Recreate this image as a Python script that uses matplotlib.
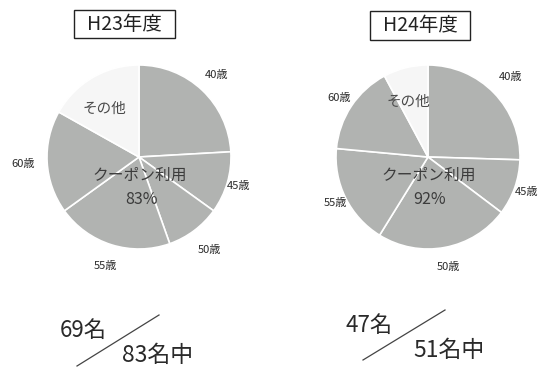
import numpy as np
import matplotlib.pyplot as plt

plt.rcParams['font.family'] = ['Noto Sans CJK JP', 'DejaVu Sans']

# data: people per age group (coupon users) + others
age_labels = ['40歳', '45歳', '50歳', '55歳', '60歳']
other_label = 'その他'
years = ['H23年度', 'H24年度']
users_h23 = [20, 9, 8, 17, 15]
others_h23 = 14
users_h24 = [13, 5, 12, 9, 8]
others_h24 = 4
rate_h23 = '83%'
rate_h24 = '92%'
used_h23, total_h23 = 69, 83
used_h24, total_h24 = 47, 51

GRAY = '#b1b3b1'
LIGHT = '#f6f6f6'
TXT = '#2a2a2a'
W, H = 547, 369


def ypix(y):
    return H - y


def draw_pie(ax, cx, cy, users, others, title, rate, label_dist, title_box):
    r = 92
    vals = list(users) + [others]
    colors = [GRAY] * len(users) + [LIGHT]
    wedges, _ = ax.pie(vals, colors=colors, startangle=90, counterclock=False,
                       center=(cx, ypix(cy)), radius=r, frame=True,
                       wedgeprops=dict(edgecolor='white', linewidth=1.2))
    for w, lab, d in zip(wedges[:-1], age_labels, label_dist):
        ang = np.deg2rad((w.theta1 + w.theta2) / 2)
        ax.text(cx + r * d * np.cos(ang), ypix(cy) + r * d * np.sin(ang), lab,
                ha='center', va='center', fontsize=8, color=TXT)
    w = wedges[-1]
    ang = np.deg2rad((w.theta1 + w.theta2) / 2 + 5)
    ax.text(cx + r * 0.64 * np.cos(ang), ypix(cy) + r * 0.64 * np.sin(ang), other_label,
            ha='center', va='center', fontsize=10.5, color='#4a4a4a')
    ax.text(cx + 1, ypix(cy + 18), 'クーポン利用', ha='center', va='center',
            fontsize=11.3, color='#3c3c3c')
    ax.text(cx + 2, ypix(cy + 43), rate, ha='center', va='center',
            fontsize=11.5, color='#3c3c3c')
    x0, x1, y0, y1 = title_box
    ax.add_patch(plt.Rectangle((x0, ypix(y1)), x1 - x0, y1 - y0, fill=False,
                               edgecolor='#222222', linewidth=1))
    ax.text((x0 + x1) / 2, ypix((y0 + y1) / 2), title, ha='center', va='center',
            fontsize=14, color='#222222')


fig = plt.figure(figsize=(W / 100, H / 100), dpi=100)
ax = fig.add_axes([0, 0, 1, 1])

draw_pie(ax, 139, 157, users_h23, others_h23, years[0], rate_h23,
         [1.23, 1.13, 1.27, 1.24, 1.26], (74, 175, 10, 38))
draw_pie(ax, 428, 157, users_h24, others_h24, years[1], rate_h24,
         [1.25, 1.14, 1.22, 1.12, 1.16], (370, 470, 11, 40))

# fraction texts at the bottom
ax.plot([77, 159], [ypix(366), ypix(315)], color='#444444', lw=0.9)
ax.text(60, ypix(330), f'{used_h23}名', ha='left', va='center', fontsize=16, color=TXT)
ax.text(122, ypix(355), f'{total_h23}名中', ha='left', va='center', fontsize=16.5, color=TXT)
ax.plot([363, 445], [ypix(360), ypix(310)], color='#444444', lw=0.9)
ax.text(346, ypix(325), f'{used_h24}名', ha='left', va='center', fontsize=16, color=TXT)
ax.text(413, ypix(350), f'{total_h24}名中', ha='left', va='center', fontsize=16.5, color=TXT)

ax.set_xlim(0, W)
ax.set_ylim(0, H)
ax.axis('off')

fig.savefig('out.png', dpi=100)
